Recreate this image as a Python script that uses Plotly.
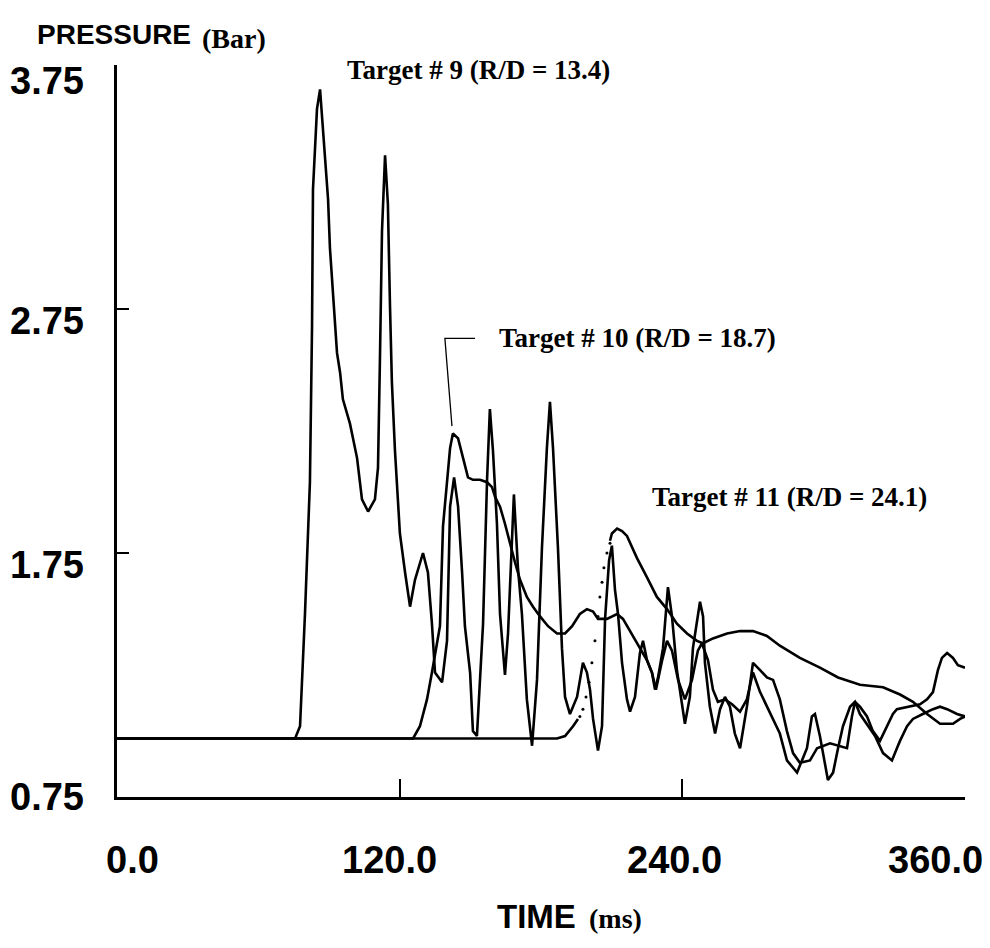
import plotly.graph_objects as go

# ---------------- data (time in ms, pressure in bar) ----------------
t9 = [0, 75.6, 77.7, 79.8, 81.9, 82.8, 83.2, 84.9, 86.2, 88.3, 89.6, 90.4, 91.7, 93.4, 94.7,
      95.9, 98.9, 101.9, 104.0, 106.6, 109.5, 110.8, 111.6, 112.5, 113.8, 115.0, 115.9, 116.7,
      118.0, 120.1, 122.3, 124.4, 126.5, 129.9, 132.0, 133.7, 135.0, 138.0, 140.1, 141.4, 143.1,
      144.8, 146.5, 147.7, 149.9, 151.1, 152.8, 155.4, 157.1, 158.3, 159.6, 161.3, 162.6, 164.7,
      166.0, 168.5, 170.2, 171.9, 174.0, 176.2, 178.3, 180.4, 182.5, 183.8, 185.1, 187.2, 188.9,
      190.2, 192.3, 195.3, 197.8, 199.5, 200.8, 202.1, 204.2, 205.9, 207.2, 208.9, 210.1, 211.4,
      212.7, 214.4, 216.5, 217.8, 219.9, 222.0, 223.3, 225.0, 227.1, 228.4, 229.7, 231.8, 233.9,
      235.6, 237.7, 239.8, 241.1, 243.2, 244.5, 247.5, 248.8, 249.6, 251.7, 253.9, 256.0, 258.1,
      260.2, 262.3, 264.5, 267.4, 270.0, 273.0, 275.9, 278.5, 281.4, 284.4, 287.0, 289.9, 294.2,
      297.2, 302.7, 309.9, 312.0, 313.3, 315.4, 318.4, 320.9, 323.9, 329.4, 331.1, 335.4, 340.9,
      343.9, 346.4, 348.5, 350.2, 352.4, 354.9, 357.0, 360.0]
p9 = [0.99, 0.99, 1.04, 1.50, 2.04, 2.68, 3.24, 3.57, 3.65, 3.37, 3.20, 3.00, 2.83, 2.57, 2.49,
      2.38, 2.28, 2.14, 1.97, 1.92, 1.97, 2.10, 2.53, 3.07, 3.38, 3.18, 2.76, 2.45,
      2.17, 1.83, 1.67, 1.53, 1.64, 1.75, 1.67, 1.46, 1.26, 1.22, 1.39, 1.94, 2.06,
      1.94, 1.67, 1.45, 1.26, 1.02, 1.00, 1.46, 2.05, 2.34, 2.17, 1.87, 1.50, 1.25,
      1.42, 1.99, 1.69, 1.50, 1.15, 0.96, 1.23, 1.77, 2.18, 2.37, 2.18, 1.77, 1.36,
      1.16, 1.09, 1.16, 1.30, 1.26, 1.19, 1.07, 0.94, 1.04, 1.48, 1.72, 1.78, 1.60,
      1.50, 1.30, 1.15, 1.10, 1.16, 1.34, 1.39, 1.31, 1.26, 1.19, 1.24, 1.36, 1.61,
      1.49, 1.27, 1.12, 1.05, 1.16, 1.36, 1.55, 1.49, 1.30, 1.12, 1.01, 1.11, 1.16,
      1.12, 1.01, 0.95, 1.12, 1.30, 1.27, 1.24, 1.23, 1.15, 1.02, 0.93, 0.89, 0.90,
      0.95, 0.97, 0.95, 1.08, 1.14, 1.12, 1.08, 1.02, 0.98, 1.09, 1.11, 1.12, 1.13,
      1.15, 1.18, 1.27, 1.32, 1.34, 1.32, 1.29, 1.28]

t10 = [0, 125.7, 128.6, 131.6, 133.7, 137.1, 138.4, 140.1, 141.4, 142.6, 144.8, 146.9, 149.0,
       151.1, 154.1, 157.1, 159.2, 160.5, 162.6, 164.7, 166.8, 169.0, 171.1, 174.0, 176.6, 179.6,
       183.0, 186.8, 190.2, 193.2, 196.5, 199.5, 202.1, 204.2, 208.0, 212.3, 214.8, 217.8, 222.0,
       225.0, 227.1, 228.8, 231.4, 233.5, 235.6, 238.2, 241.1, 244.1, 246.6, 248.3, 250.9, 253.0,
       255.1, 258.1, 261.1, 264.5, 267.4, 270.0, 273.0, 275.9, 281.4, 284.4, 288.7, 292.9, 295.0,
       296.3, 298.4, 301.8, 304.0, 306.1, 308.2, 311.2, 313.3, 315.4, 318.4, 321.8, 325.2, 329.0,
       331.1, 332.4, 335.4, 337.9, 342.1, 346.4, 349.4, 352.4, 356.6, 360.0]
p10 = [0.99, 0.99, 1.04, 1.15, 1.26, 1.45, 1.86, 2.04, 2.18, 2.24, 2.22, 2.14, 2.06,
       2.05, 2.05, 2.04, 2.02, 1.98, 1.94, 1.87, 1.79, 1.71, 1.64, 1.57, 1.53, 1.49,
       1.45, 1.42, 1.42, 1.45, 1.50, 1.52, 1.51, 1.48, 1.48, 1.50, 1.48, 1.43, 1.36,
       1.31, 1.26, 1.19, 1.31, 1.39, 1.35, 1.23, 1.15, 1.23, 1.35, 1.38, 1.31, 1.19,
       1.14, 1.15, 1.13, 1.10, 1.15, 1.26, 1.18, 1.12, 1.01, 0.90, 0.85, 0.95, 1.08,
       1.09, 1.00, 0.82, 0.85, 0.95, 1.04, 1.12, 1.14, 1.09, 1.05, 1.00, 0.93, 0.90,
       0.95, 0.98, 1.04, 1.07, 1.09, 1.11, 1.12, 1.11, 1.09, 1.08]

# Target 11: solid record (gap where the fast rise is only sampled as dots)
t11 = [0, 186.8, 190.2, 193.6, 195.7, None, 209.3, 210.1, 212.3, 214.4, 216.5, 220.7, 225.0,
       229.2, 233.5, 237.7, 242.0, 246.2, 248.8, 253.0, 259.0, 264.5, 270.0, 275.9, 281.4,
       289.9, 298.4, 306.1, 315.4, 325.2, 332.4, 337.9, 343.9, 349.4, 354.9, 357.9, 360.0]
p11 = [0.99, 0.99, 1.00, 1.04, 1.07, None, 1.80, 1.83, 1.85, 1.84, 1.82, 1.73, 1.65,
       1.57, 1.52, 1.46, 1.42, 1.39, 1.38, 1.40, 1.42, 1.43, 1.43, 1.41, 1.37,
       1.32, 1.28, 1.24, 1.21, 1.20, 1.17, 1.14, 1.09, 1.05, 1.05, 1.07, 1.08]
t11_dots = [196.5, 197.8, 199.1, 200.4, 201.6, 202.9, 204.2, 205.0, 205.9, 206.7, 208.0, 209.3]
p11_dots = [1.08, 1.11, 1.16, 1.22, 1.30, 1.39, 1.49, 1.57, 1.63, 1.69, 1.75, 1.79]

x_tick_vals = [0, 120, 240, 360]
x_tick_text = ["0.0", "120.0", "240.0", "360.0"]
y_tick_vals = [0.75, 1.75, 2.75, 3.75]
y_tick_text = ["0.75", "1.75", "2.75", "3.75"]

target_labels = ["Target # 9 (R/D = 13.4)", "Target # 10 (R/D = 18.7)", "Target # 11 (R/D = 24.1)"]
target_label_t = [96.8, 161.3, 226.3]
target_label_p = [3.73, 2.63, 1.98]
leader_t = [152.0, 139.2, 142.2]
leader_p = [2.63, 2.63, 2.27]

# ---------------- figure ----------------
LINE = dict(color="black", width=2.6)
fig = go.Figure()
fig.add_trace(go.Scatter(x=t9, y=p9, mode="lines", line=LINE, name="Target # 9"))
fig.add_trace(go.Scatter(x=t10, y=p10, mode="lines", line=LINE, name="Target # 10"))
fig.add_trace(go.Scatter(x=t11, y=p11, mode="lines", line=LINE, connectgaps=False, name="Target # 11"))
fig.add_trace(go.Scatter(x=t11_dots, y=p11_dots, mode="markers",
                         marker=dict(color="black", size=3), name="Target # 11 rise"))
fig.add_trace(go.Scatter(x=leader_t, y=leader_p, mode="lines",
                         line=dict(color="black", width=1.3), name="leader"))

NARROW = "Liberation Sans, Arial, sans-serif"
SERIF = "Liberation Serif, Times New Roman, serif"

annotations = []
x_shifts = [15, -10, -8, -30]
for v, txt, sh in zip(x_tick_vals, x_tick_text, x_shifts):
    annotations.append(dict(x=v, y=-0.086, xref="x", yref="paper", text=txt, showarrow=False,
                            xanchor="center", yanchor="middle", xshift=sh,
                            font=dict(family=NARROW, size=38, color="black", weight="bold")))
y_shifts = [0, -12, -12, -16]
for v, txt, sh in zip(y_tick_vals, y_tick_text, y_shifts):
    annotations.append(dict(x=-0.0366, y=v, xref="paper", yref="y", text=txt, showarrow=False,
                            xanchor="right", yanchor="middle", yshift=sh,
                            font=dict(family=NARROW, size=38, color="black", weight="bold")))
for txt, tv, pv in zip(target_labels, target_label_t, target_label_p):
    annotations.append(dict(x=tv, y=pv, xref="x", yref="y", text=txt, showarrow=False,
                            xanchor="left", yanchor="middle",
                            font=dict(family=SERIF, size=27, color="black", weight="bold")))
# axis titles
annotations += [
    dict(x=-0.0967, y=1.041, xref="paper", yref="paper", text="PRESSURE", showarrow=False,
         xanchor="left", yanchor="middle",
         font=dict(family=NARROW, size=28, color="black", weight="bold")),
    dict(x=0.0979, y=1.036, xref="paper", yref="paper", text="(Bar)", showarrow=False,
         xanchor="left", yanchor="middle",
         font=dict(family=SERIF, size=28, color="black", weight="bold")),
    dict(x=0.4458, y=-0.1626, xref="paper", yref="paper", text="TIME", showarrow=False,
         xanchor="left", yanchor="middle",
         font=dict(family=NARROW, size=33, color="black", weight="bold")),
    dict(x=0.554, y=-0.166, xref="paper", yref="paper", text="(ms)", showarrow=False,
         xanchor="left", yanchor="middle",
         font=dict(family=SERIF, size=28, color="black", weight="bold")),
]

fig.update_layout(
    width=990, height=948,
    margin=dict(l=117, r=25, t=65, b=151),
    paper_bgcolor="white", plot_bgcolor="white",
    showlegend=False,
    annotations=annotations,
    xaxis=dict(range=[0, 360], showgrid=False, zeroline=False, showline=True,
               linecolor="black", linewidth=2.5, ticks="inside", ticklen=18, tickwidth=2,
               tickcolor="black", tickvals=[120, 240, 360], showticklabels=False),
    yaxis=dict(range=[0.75, 3.75], showgrid=False, zeroline=False, showline=True,
               linecolor="black", linewidth=2.5, ticks="inside", ticklen=12, tickwidth=2,
               tickcolor="black", tickvals=[1.75, 2.75], showticklabels=False),
)

fig.write_html("out.html", config={"displayModeBar": False},
               post_script="document.body.style.margin='0px';document.body.style.overflow='hidden';")
